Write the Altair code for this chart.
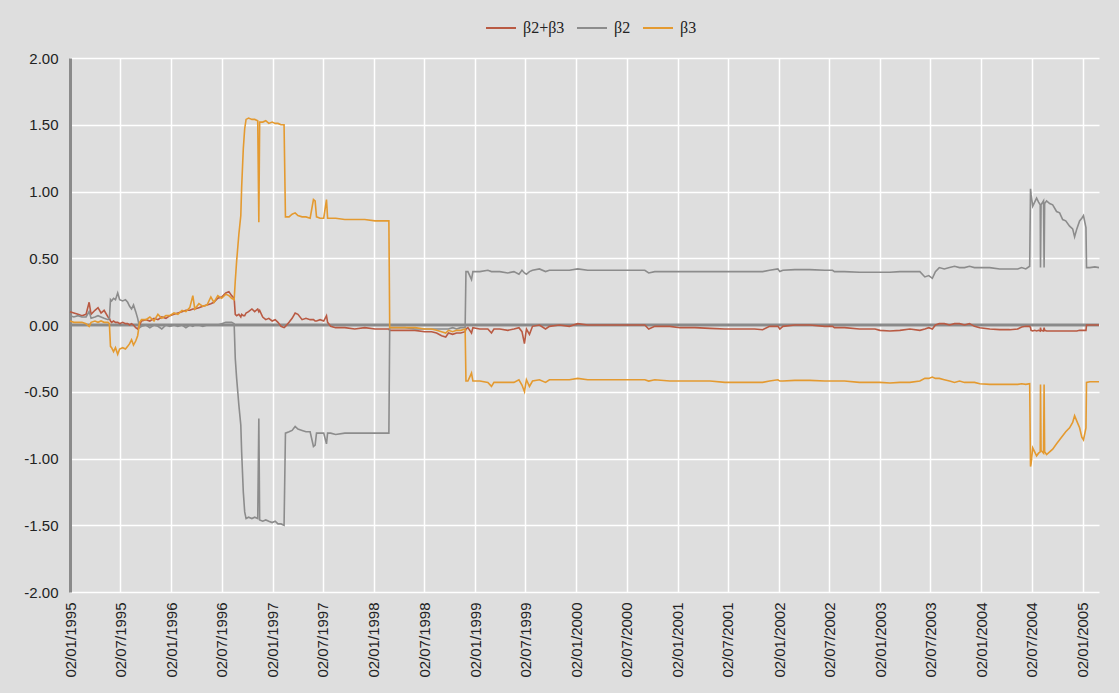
import altair as alt
import pandas as pd

# Observation dates (shared by the three coefficient series)
dates = [
    "1995-01-02", "1995-01-16", "1995-01-31", "1995-02-14", "1995-03-01", "1995-03-12", "1995-03-19",
    "1995-04-02", "1995-04-13", "1995-04-24", "1995-05-05", "1995-05-19", "1995-05-24", "1995-05-28",
    "1995-06-01", "1995-06-08", "1995-06-15", "1995-06-23", "1995-06-30", "1995-07-11", "1995-07-21",
    "1995-07-29", "1995-08-05", "1995-08-12", "1995-08-19", "1995-08-27", "1995-09-03", "1995-09-10",
    "1995-09-17", "1995-10-03", "1995-10-17", "1995-11-01", "1995-11-15", "1995-11-29", "1995-12-14",
    "1995-12-28", "1996-01-12", "1996-01-26", "1996-02-10", "1996-02-24", "1996-03-09", "1996-03-20",
    "1996-03-27", "1996-04-11", "1996-04-25", "1996-05-10", "1996-05-24", "1996-06-04", "1996-06-18",
    "1996-07-02", "1996-07-17", "1996-07-28", "1996-08-07", "1996-08-16", "1996-08-20", "1996-08-25",
    "1996-09-02", "1996-09-09", "1996-09-12", "1996-09-18", "1996-09-23", "1996-09-28", "1996-10-07",
    "1996-10-19", "1996-10-29", "1996-11-09", "1996-11-13", "1996-11-16", "1996-11-27", "1996-12-08",
    "1996-12-19", "1996-12-31", "1997-01-11", "1997-01-21", "1997-02-01", "1997-02-12", "1997-02-17",
    "1997-03-02", "1997-03-13", "1997-03-24", "1997-04-03", "1997-04-18", "1997-05-02", "1997-05-17",
    "1997-05-29", "1997-06-04", "1997-06-09", "1997-06-22", "1997-07-05", "1997-07-15", "1997-07-19",
    "1997-07-30", "1997-08-17", "1997-09-19", "1997-10-25", "1997-11-30", "1998-01-06", "1998-02-11",
    "1998-02-25", "1998-02-28", "1998-03-19", "1998-04-24", "1998-05-30", "1998-07-04", "1998-07-29",
    "1998-08-16", "1998-09-03", "1998-09-18", "1998-09-28", "1998-10-13", "1998-10-27", "1998-11-11",
    "1998-11-27", "1998-11-30", "1998-12-07", "1998-12-20", "1998-12-25", "1999-01-19", "1999-02-17",
    "1999-03-02", "1999-03-11", "1999-04-01", "1999-04-30", "1999-05-22", "1999-06-09", "1999-06-20",
    "1999-06-29", "1999-07-06", "1999-07-17", "1999-07-28", "1999-08-22", "1999-09-13", "1999-09-27",
    "1999-11-02", "1999-12-08", "2000-01-07", "2000-02-12", "2000-03-27", "2000-05-20", "2000-07-12",
    "2000-09-05", "2000-09-19", "2000-10-11", "2000-12-04", "2001-01-10", "2001-03-05", "2001-04-28",
    "2001-06-21", "2001-08-13", "2001-10-06", "2001-11-04", "2001-11-29", "2001-12-29", "2002-01-05",
    "2002-01-16", "2002-02-28", "2002-04-23", "2002-06-16", "2002-07-14", "2002-07-21", "2002-08-26",
    "2002-10-19", "2002-12-14", "2003-01-01", "2003-02-06", "2003-03-14", "2003-04-19", "2003-05-25",
    "2003-06-12", "2003-06-26", "2003-07-09", "2003-07-20", "2003-08-03", "2003-08-21", "2003-09-09",
    "2003-09-27", "2003-10-15", "2003-11-02", "2003-11-20", "2003-12-08", "2003-12-27", "2004-02-01",
    "2004-03-08", "2004-04-13", "2004-05-12", "2004-05-26", "2004-06-10", "2004-06-24", "2004-06-27",
    "2004-06-29", "2004-07-05", "2004-07-12", "2004-07-19", "2004-07-26", "2004-08-01", "2004-08-02",
    "2004-08-04", "2004-08-13", "2004-08-15", "2004-08-17", "2004-08-24", "2004-09-04", "2004-09-15",
    "2004-09-29", "2004-10-10", "2004-10-21", "2004-11-01", "2004-11-15", "2004-11-26", "2004-12-03",
    "2004-12-11", "2004-12-21", "2004-12-29", "2005-01-04", "2005-01-13", "2005-01-15", "2005-01-27",
    "2005-02-14", "2005-03-01",
]

# β2+β3
beta_sum = [
    0.10, 0.09, 0.08, 0.07, 0.08, 0.17, 0.08,
    0.11, 0.13, 0.09, 0.11, 0.06, 0.05, 0.03,
    0.02, 0.03, 0.02, 0.02, 0.01, 0.02, 0.01,
    0.01, 0.00, 0.01, 0.00, -0.02, -0.03, 0.00,
    0.03, 0.04, 0.03, 0.05, 0.04, 0.06, 0.05,
    0.07, 0.08, 0.09, 0.10, 0.11, 0.11, 0.12,
    0.12, 0.13, 0.14, 0.15, 0.16, 0.17, 0.20,
    0.21, 0.24, 0.25, 0.22, 0.20, 0.08, 0.07,
    0.08, 0.06, 0.08, 0.07, 0.07, 0.09, 0.10,
    0.12, 0.10, 0.12, 0.10, 0.11, 0.06, 0.04,
    0.05, 0.03, 0.04, 0.02, -0.01, -0.02, -0.01,
    0.02, 0.05, 0.09, 0.08, 0.04, 0.05, 0.04,
    0.04, 0.03, 0.03, 0.04, 0.03, 0.07, 0.02,
    -0.01, -0.02, -0.02, -0.03, -0.02, -0.03, -0.03,
    -0.03, -0.04, -0.04, -0.04, -0.04, -0.05, -0.05,
    -0.06, -0.08, -0.09, -0.06, -0.07, -0.06, -0.06,
    -0.05, -0.03, -0.02, -0.06, -0.02, -0.03, -0.03,
    -0.06, -0.03, -0.03, -0.04, -0.03, -0.02, -0.05,
    -0.14, -0.03, -0.07, -0.01, 0.00, -0.03, -0.01,
    0.00, -0.01, 0.01, 0.00, 0.00, 0.00, 0.00,
    0.00, -0.03, -0.01, -0.01, -0.02, -0.02, -0.025,
    -0.03, -0.03, -0.03, -0.035, -0.01, -0.01, -0.03,
    -0.01, 0.00, 0.00, -0.01, -0.01, -0.02, -0.02,
    -0.03, -0.03, -0.04, -0.045, -0.04, -0.03, -0.04,
    -0.03, -0.02, -0.03, 0.00, 0.01, 0.01, 0.00,
    0.01, 0.01, 0.00, 0.01, -0.01, -0.02, -0.03,
    -0.035, -0.035, -0.03, -0.015, -0.01, -0.01, -0.02,
    -0.04, -0.045, -0.04, -0.045, -0.04, -0.045, -0.02,
    -0.04, -0.045, -0.02, -0.04, -0.045, -0.045, -0.045,
    -0.045, -0.045, -0.045, -0.045, -0.045, -0.045, -0.045,
    -0.045, -0.04, -0.04, -0.04, -0.04, 0.00, 0.00,
    0.00, 0.00,
]

# β2
beta2 = [
    0.07, 0.06, 0.07, 0.06, 0.06, 0.10, 0.05,
    0.06, 0.07, 0.06, 0.05, 0.04, 0.05, 0.19,
    0.18, 0.20, 0.19, 0.24, 0.19, 0.18, 0.19,
    0.17, 0.14, 0.12, 0.15, 0.10, 0.05, -0.02,
    -0.01, 0.00, -0.02, 0.00, -0.01, -0.03, 0.00,
    -0.01, 0.00, -0.01, 0.00, -0.02, 0.00, -0.01,
    0.00, 0.00, -0.01, 0.00, 0.00, 0.00, 0.00,
    0.01, 0.02, 0.02, 0.02, 0.01, -0.25, -0.40,
    -0.60, -0.75, -0.95, -1.25, -1.40, -1.45, -1.44,
    -1.45, -1.44, -1.45, -0.70, -1.46, -1.47, -1.46,
    -1.47, -1.48, -1.47, -1.49, -1.49, -1.50, -0.81,
    -0.80, -0.79, -0.76, -0.78, -0.79, -0.80, -0.80,
    -0.91, -0.90, -0.81, -0.81, -0.81, -0.89, -0.81,
    -0.81, -0.82, -0.81, -0.81, -0.81, -0.81, -0.81,
    -0.81, -0.02, -0.02, -0.02, -0.03, -0.03, -0.03,
    -0.03, -0.03, -0.03, -0.03, -0.02, -0.03, -0.02,
    -0.02, 0.40, 0.40, 0.34, 0.40, 0.40, 0.41,
    0.40, 0.40, 0.40, 0.39, 0.40, 0.38, 0.41,
    0.39, 0.38, 0.40, 0.41, 0.42, 0.40, 0.41,
    0.41, 0.41, 0.42, 0.41, 0.41, 0.41, 0.41,
    0.41, 0.39, 0.40, 0.40, 0.40, 0.40, 0.40,
    0.40, 0.40, 0.40, 0.40, 0.41, 0.42, 0.40,
    0.41, 0.415, 0.415, 0.41, 0.41, 0.40, 0.40,
    0.395, 0.395, 0.395, 0.395, 0.40, 0.40, 0.40,
    0.36, 0.37, 0.35, 0.40, 0.43, 0.42, 0.43,
    0.44, 0.43, 0.43, 0.44, 0.43, 0.43, 0.43,
    0.42, 0.42, 0.42, 0.43, 0.42, 0.44, 1.02,
    0.98, 0.89, 0.92, 0.95, 0.92, 0.90, 0.43,
    0.90, 0.93, 0.43, 0.91, 0.93, 0.91, 0.90,
    0.85, 0.84, 0.79, 0.78, 0.74, 0.72, 0.66,
    0.72, 0.78, 0.80, 0.82, 0.73, 0.43, 0.43,
    0.435, 0.43,
]

# β3
beta3 = [
    0.03, 0.02, 0.02, 0.02, 0.01, -0.01, 0.02,
    0.03, 0.02, 0.03, 0.02, 0.02, 0.01, -0.16,
    -0.17, -0.20, -0.17, -0.22, -0.18, -0.17, -0.18,
    -0.16, -0.14, -0.11, -0.15, -0.12, -0.08, 0.02,
    0.04, 0.04, 0.06, 0.03, 0.08, 0.05, 0.07,
    0.07, 0.09, 0.08, 0.11, 0.10, 0.13, 0.22,
    0.12, 0.16, 0.14, 0.15, 0.21, 0.17, 0.22,
    0.20, 0.23, 0.22, 0.20, 0.19, 0.33, 0.48,
    0.68, 0.82, 1.03, 1.32, 1.47, 1.54, 1.55,
    1.54, 1.54, 1.53, 0.77, 1.52, 1.52, 1.53,
    1.51, 1.52, 1.51, 1.51, 1.50, 1.50, 0.81,
    0.81, 0.83, 0.84, 0.82, 0.81, 0.81, 0.80,
    0.94, 0.93, 0.81, 0.80, 0.80, 0.94, 0.80,
    0.80, 0.80, 0.79, 0.79, 0.79, 0.78, 0.78,
    0.78, -0.02, -0.02, -0.02, -0.02, -0.03, -0.03,
    -0.04, -0.05, -0.06, -0.04, -0.05, -0.04, -0.04,
    -0.03, -0.42, -0.42, -0.36, -0.42, -0.42, -0.43,
    -0.46, -0.43, -0.43, -0.43, -0.43, -0.41, -0.45,
    -0.50, -0.41, -0.46, -0.42, -0.41, -0.43, -0.41,
    -0.41, -0.41, -0.40, -0.41, -0.41, -0.41, -0.41,
    -0.41, -0.42, -0.41, -0.42, -0.42, -0.42, -0.42,
    -0.43, -0.43, -0.43, -0.43, -0.42, -0.41, -0.42,
    -0.42, -0.415, -0.415, -0.42, -0.42, -0.42, -0.42,
    -0.43, -0.43, -0.43, -0.435, -0.43, -0.43, -0.42,
    -0.40, -0.40, -0.39, -0.40, -0.40, -0.41, -0.42,
    -0.43, -0.42, -0.43, -0.43, -0.43, -0.44, -0.445,
    -0.445, -0.445, -0.445, -0.44, -0.445, -0.44, -1.06,
    -1.04, -0.92, -0.95, -0.98, -0.96, -0.95, -0.445,
    -0.94, -0.96, -0.445, -0.95, -0.97, -0.95, -0.93,
    -0.89, -0.86, -0.83, -0.80, -0.77, -0.73, -0.68,
    -0.72, -0.77, -0.84, -0.86, -0.77, -0.43, -0.425,
    -0.425, -0.425,
]

series_names = ["β2+β3", "β2", "β3"]
series_colors = ["#B95A43", "#8C8C8C", "#E49A30"]

# Half-year tick dates on the time axis
tick_dates = [(y, m) for y in range(1995, 2006) for m in (1, 7)][:-1]
y_ticks = [-2.0, -1.5, -1.0, -0.5, 0.0, 0.5, 1.0, 1.5, 2.0]

assert len(dates) == len(beta_sum) == len(beta2) == len(beta3)

frames = []
for name, vals in zip(series_names, [beta_sum, beta2, beta3]):
    frames.append(pd.DataFrame({"date": dates, "value": vals, "series": name}))
data = pd.concat(frames, ignore_index=True)

x_scale = alt.Scale(
    type="utc",
    domain=[alt.DateTime(year=1995, month=1, date=2, utc=True),
            alt.DateTime(year=2005, month=3, date=1, utc=True)],
    nice=False,
)
y_scale = alt.Scale(domain=[-2, 2], nice=False)

x_axis = alt.Axis(
    values=[alt.DateTime(year=y, month=m, date=2, utc=True) for y, m in tick_dates],
    labelExpr="utcFormat(datum.value, '%d/%m/%Y')",
    labelAngle=270, labelPadding=10,
    grid=True, gridColor="white", gridWidth=1.5, ticks=False, domain=False,
    labelFont="Liberation Sans", labelFontSize=15, labelColor="#222222", title=None,
)
y_axis = alt.Axis(
    values=y_ticks,
    labelExpr="replace(format(datum.value, '.2f'), '\u2212', '-')",
    grid=True, gridColor="white", gridWidth=1.5, ticks=False,
    domain=True, domainColor="#8A8A8A", domainWidth=3,
    labelFont="Liberation Sans", labelFontSize=15, labelColor="#222222",
    labelPadding=12, title=None,
)

zero_line = alt.Chart(pd.DataFrame({"value": [0.0]})).mark_rule(
    color="#8A8A8A", strokeWidth=3
).encode(y=alt.Y("value:Q", scale=y_scale, axis=y_axis))

lines = alt.Chart(data).mark_line(strokeWidth=1.6, interpolate="linear").encode(
    x=alt.X("date:T", scale=x_scale, axis=x_axis),
    y=alt.Y("value:Q", scale=y_scale, axis=y_axis),
    color=alt.Color(
        "series:N",
        scale=alt.Scale(domain=series_names, range=series_colors),
        legend=alt.Legend(
            title=None, orient="none", direction="horizontal",
            legendX=415, legendY=-46,
            symbolType="stroke", symbolSize=900, symbolStrokeWidth=2,
            labelFont="Liberation Serif", labelFontSize=16, labelColor="#222222",
            labelOffset=6, columnPadding=8,
        ),
        sort=series_names,
    ),
)

chart = alt.layer(zero_line, lines).properties(
    width=1029, height=534,
    autosize=alt.AutoSizeParams(type="none"),
    padding={"left": 70, "top": 58, "right": 20, "bottom": 101},
    background="#DEDEDE",
).configure_view(stroke=None)

chart.save("out.html", embed_options={"renderer": "svg", "actions": False})
